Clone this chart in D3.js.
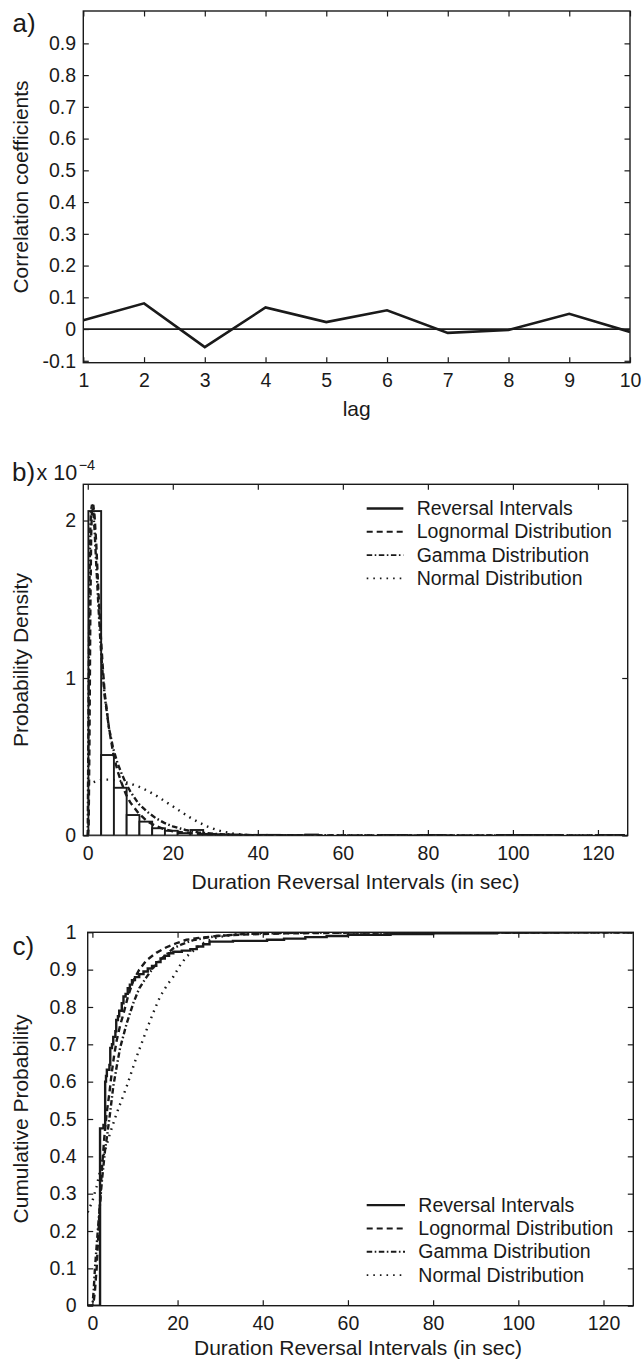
<!DOCTYPE html>
<html><head><meta charset="utf-8">
<script src="https://cdn.jsdelivr.net/npm/d3@7"></script>
<style>
body{margin:0;background:#fff;}
svg text{font-family:"Liberation Sans",Arial,Helvetica,sans-serif;fill:#1a1a1a;}
</style>
</head><body>
<svg id="chart" width="642" height="1362"></svg>
<script>
// ---------- Panel a: autocorrelation ----------
const lags = [1,2,3,4,5,6,7,8,9,10];
const corrCoefficients = [0.028,0.081,-0.057,0.068,0.022,0.059,-0.012,-0.003,0.048,-0.009];
const lagTicks = [1,2,3,4,5,6,7,8,9,10];
const corrTicks = [-0.1,0,0.1,0.2,0.3,0.4,0.5,0.6,0.7,0.8,0.9];

// ---------- Panel b: histogram (x 1e-4) + fitted pdfs ----------
const binStart = 0.15, binWidth = 3.0;
const histDensity = [2.06,0.511,0.303,0.13,0.088,0.046,0.03,0.015,0.035,0.01,
  0.006,0.005,0.003,0.004,0.004,0.002,0.002,0.006,0,0,
  0,0,0,0.003,0.003,0,0.003,0.003,0,0,
  0,0,0.003,0.003,0.003,0.003,0.003,0,0,0,
  0.003,0.003];
const lognormPdfX = [0,0.2,0.4,0.6,0.8,1.0,1.3,1.6,2.0,2.5,3.0,3.5,4.0,5.0,6.0,7.0,8.0,9.0,10,12,14,16,18,20,25,30,40,60,90,127];
const lognormPdfY = [0,0.05,0.6,1.4,1.9,2.08,2.1,2.03,1.85,1.55,1.3,1.08,0.9,0.68,0.52,0.41,0.33,0.26,0.21,0.14,0.09,0.06,0.04,0.027,0.012,0.006,0.002,0.0006,0.0002,0.0001];
const gammaPdfX = [0,0.2,0.4,0.6,0.8,1.0,1.3,1.6,2.0,2.5,3.0,3.5,4.0,5.0,6.0,7.0,8.0,9.0,10,12,14,16,18,20,23,26,30,35,40,50,127];
const gammaPdfY = [0,0.9,1.6,1.95,2.07,2.1,2.06,1.94,1.72,1.46,1.22,1.03,0.88,0.68,0.55,0.46,0.39,0.33,0.28,0.2,0.15,0.11,0.08,0.058,0.035,0.02,0.01,0.004,0.0015,0.0002,0];
const normPdfX = [0,1,2,3,4,5,6,8,10,12,14,16,18,20,22,24,26,28,30,32,34,36,38,40,45,50,127];
const normPdfY = [0.32,0.335,0.345,0.352,0.355,0.355,0.353,0.345,0.33,0.31,0.285,0.255,0.22,0.185,0.15,0.115,0.085,0.058,0.038,0.023,0.013,0.007,0.003,0.0015,0.0002,0,0];
const densityTicks = [0,1,2];
const durationTicks = [0,20,40,60,80,100,120];

// ---------- Panel c: cumulative distributions ----------
const ecdfX = [-1.1,1.8,2.6,3.0,3.2,3.4,4.0,4.2,4.6,4.9,5.4,5.6,6.0,6.3,6.9,7.3,7.8,8.3,8.8,9.3,10.0,11,12,13,14,15,16,17,18,19,21,23,24.5,26,27.5,33,41,45,50,55,60,70,80,95,110,127];
const ecdfY = [0,0.475,0.484,0.6,0.615,0.632,0.645,0.69,0.70,0.72,0.735,0.765,0.775,0.79,0.81,0.828,0.835,0.85,0.86,0.872,0.88,0.888,0.895,0.903,0.91,0.92,0.93,0.937,0.944,0.948,0.951,0.955,0.962,0.968,0.975,0.977,0.98,0.983,0.987,0.99,0.993,0.995,0.997,0.999,1,1];
const lognormCdfX = [-1.1,0,0.3,0.6,1.0,1.4,1.8,2.2,2.8,3.35,4.0,4.5,5.1,5.7,6.5,7.25,8.4,9.6,11,12.7,15,17.4,20,22.1,25,29.2,35,45,60,127];
const lognormCdfY = [0,0,0.01,0.04,0.1,0.19,0.28,0.36,0.45,0.515,0.57,0.62,0.67,0.71,0.75,0.78,0.83,0.87,0.9,0.925,0.945,0.96,0.972,0.98,0.985,0.99,0.994,0.997,0.999,1];
const gammaCdfX = [-1.1,0,0.3,0.6,1.0,1.4,2.2,3.0,3.4,4.2,4.9,5.7,6.5,8.05,9.6,11,12.7,14.3,15.9,19,21,23.7,26.5,29.2,35,41,50,127];
const gammaCdfY = [0,0,0.04,0.1,0.16,0.22,0.33,0.42,0.45,0.52,0.587,0.64,0.69,0.756,0.81,0.85,0.88,0.905,0.926,0.957,0.968,0.979,0.985,0.99,0.995,0.997,0.999,1];
const normCdfX = [-1.1,0,1.0,2.56,4.1,5.7,8.05,10.4,12.7,14.3,15.9,17.5,19,20.5,22.1,25.3,27,29.2,32,34.6,40,50,127];
const normCdfY = [0.25,0.28,0.32,0.4,0.46,0.515,0.587,0.667,0.738,0.785,0.828,0.858,0.881,0.91,0.935,0.966,0.977,0.986,0.992,0.995,0.999,1,1];
const probTicks = [0,0.1,0.2,0.3,0.4,0.5,0.6,0.7,0.8,0.9,1];

const legendLabels = ["Reversal Intervals","Lognormal Distribution","Gamma Distribution","Normal Distribution"];

// ---------- drawing ----------
const svg = d3.select("#chart");
const INK = "#1a1a1a";
const FS_TICK = 19.5, FS_TITLE = 21, FS_LEG = 19.5;
const styles = {
  solid: null,
  dashed: "6,4",
  dashdot: "5.5,2.5,1.6,2.5",
  dotted: "1.6,5"
};

function frame(g, x, y, xt, yt, xfmt, yfmt, xpad, ypad, id){
  const [x0,x1] = x.range(), [y0,y1] = y.range();
  const tk = 5.5;
  const style = sel => {
    sel.select(".domain").remove();
    sel.selectAll(".tick line").attr("stroke", INK).attr("stroke-width", 1.2);
    sel.selectAll("text").attr("font-size", FS_TICK).attr("fill", INK)
       .style("font-family", '"Liberation Sans",Arial,sans-serif');
  };
  g.append("g").attr("transform", `translate(0,${y0})`)
    .call(d3.axisBottom(x).tickValues(xt).tickSize(-tk).tickSizeOuter(0).tickPadding(xpad).tickFormat(xfmt)).call(style);
  g.append("g").attr("transform", `translate(0,${y1})`)
    .call(d3.axisTop(x).tickValues(xt).tickSize(-tk).tickSizeOuter(0).tickFormat("")).call(style);
  g.append("g").attr("transform", `translate(${x0},0)`)
    .call(d3.axisLeft(y).tickValues(yt).tickSize(-tk).tickSizeOuter(0).tickPadding(ypad).tickFormat(yfmt)).call(style);
  g.append("g").attr("transform", `translate(${x1},0)`)
    .call(d3.axisRight(y).tickValues(yt).tickSize(-tk).tickSizeOuter(0).tickFormat("")).call(style);
  g.append("rect").attr("x", x0).attr("y", y1).attr("width", x1-x0).attr("height", y0-y1)
    .attr("fill", "none").attr("stroke", INK).attr("stroke-width", 1.4);
  g.append("clipPath").attr("id", id).append("rect")
    .attr("x", x0).attr("y", y1).attr("width", x1-x0).attr("height", y0-y1);
}

function curve(g, x, y, xs, ys, dash, clip, stepped, w){
  const line = d3.line().x((d,i)=>x(xs[i])).y((d,i)=>y(ys[i]));
  if (stepped) line.curve(d3.curveStepAfter);
  g.append("path").datum(xs).attr("d", line)
    .attr("fill","none").attr("stroke", INK).attr("stroke-width", w || 2.4)
    .attr("stroke-dasharray", dash).attr("clip-path", `url(#${clip})`);
}

function legend(g, x, yBase, lineX0, lineX1, textX){
  const dashes = [styles.solid, styles.dashed, styles.dashdot, styles.dotted];
  legendLabels.forEach((lab,i)=>{
    const by = yBase + i*23.3;
    g.append("line").attr("x1", lineX0).attr("x2", lineX1).attr("y1", by-6.5).attr("y2", by-6.5)
      .attr("stroke", INK).attr("stroke-width", i===0?2.3:1.9).attr("stroke-dasharray", dashes[i]);
    g.append("text").attr("x", textX).attr("y", by).attr("font-size", FS_LEG).text(lab);
  });
}

function title(g, txt, x, y, rot){
  const t = g.append("text").attr("font-size", FS_TITLE).attr("text-anchor","middle").text(txt);
  if (rot) t.attr("transform", `translate(${x},${y}) rotate(-90)`);
  else t.attr("x", x).attr("y", y);
}

// Panel a
{
  const g = svg.append("g");
  const x = d3.scaleLinear().domain([1,10]).range([83.3,630]);
  const y = d3.scaleLinear().domain([-0.106,1.002]).range([362.7,11]);
  frame(g, x, y, lagTicks, corrTicks, d=>String(d), d=> d===0 ? "0" : d.toFixed(1), 10.5, 7.3, "clipA");
  g.append("line").attr("x1", x(1)).attr("x2", x(10)).attr("y1", y(0)).attr("y2", y(0))
    .attr("stroke", INK).attr("stroke-width", 1.7);
  curve(g, x, y, lags, corrCoefficients, null, "clipA", false, 2.6);
  title(g, "lag", 356.7, 416, false);
  title(g, "Correlation coefficients", 28, 187, true);
  g.append("text").attr("x", 12.5).attr("y", 32).attr("font-size", 26).text("a)");
}

// Panel b
{
  const g = svg.append("g");
  const x = d3.scaleLinear().domain([-1.05,127]).range([83.3,627.7]);
  const y = d3.scaleLinear().domain([0,2.23]).range([835.5,484.3]);
  frame(g, x, y, durationTicks, densityTicks, d=>String(d), d=>String(d), 10.8, 7.3, "clipB");
  g.append("g").attr("clip-path","url(#clipB)").selectAll("rect").data(histDensity).join("rect")
    .attr("x", (d,i)=>x(binStart + i*binWidth))
    .attr("width", x(binStart+binWidth) - x(binStart))
    .attr("y", d=>y(d)).attr("height", d=>y(0)-y(d))
    .attr("fill","#fff").attr("stroke", INK).attr("stroke-width", 1.9);
  curve(g, x, y, lognormPdfX, lognormPdfY, styles.dashed, "clipB", false);
  curve(g, x, y, gammaPdfX, gammaPdfY, styles.dashdot, "clipB", false);
  curve(g, x, y, normPdfX, normPdfY, styles.dotted, "clipB", false);
  legend(g, x, 515, 366.7, 403.3, 416.7);
  title(g, "Duration Reversal Intervals (in sec)", 355.5, 889, false);
  title(g, "Probability Density", 28, 660, true);
  g.append("text").attr("x", 12).attr("y", 480.5).attr("font-size", 26).text("b)");
  const sci = g.append("text").attr("x", 36.5).attr("y", 480).attr("font-size", 21.5);
  sci.append("tspan").text("x 10");
  sci.append("tspan").attr("dy", -10).attr("dx", 1.5).attr("font-size", 14.5).text("\u22124");
}

// Panel c
{
  const g = svg.append("g");
  const x = d3.scaleLinear().domain([-1.1,127]).range([87.7,633.3]);
  const y = d3.scaleLinear().domain([0,1]).range([1305.7,932.3]);
  frame(g, x, y, durationTicks, probTicks, d=>String(d), d=> (d===0||d===1) ? String(d) : d.toFixed(1), 10, 11.2, "clipC");
  curve(g, x, y, ecdfX, ecdfY, null, "clipC", true);
  curve(g, x, y, lognormCdfX, lognormCdfY, styles.dashed, "clipC", false);
  curve(g, x, y, gammaCdfX, gammaCdfY, styles.dashdot, "clipC", false);
  curve(g, x, y, normCdfX, normCdfY, styles.dotted, "clipC", false);
  legend(g, x, 1211.7, 366.7, 405, 418.3);
  title(g, "Duration Reversal Intervals (in sec)", 358, 1355, false);
  title(g, "Cumulative Probability", 28, 1119, true);
  g.append("text").attr("x", 12.5).attr("y", 955).attr("font-size", 26).text("c)");
}
</script>
</body></html>
